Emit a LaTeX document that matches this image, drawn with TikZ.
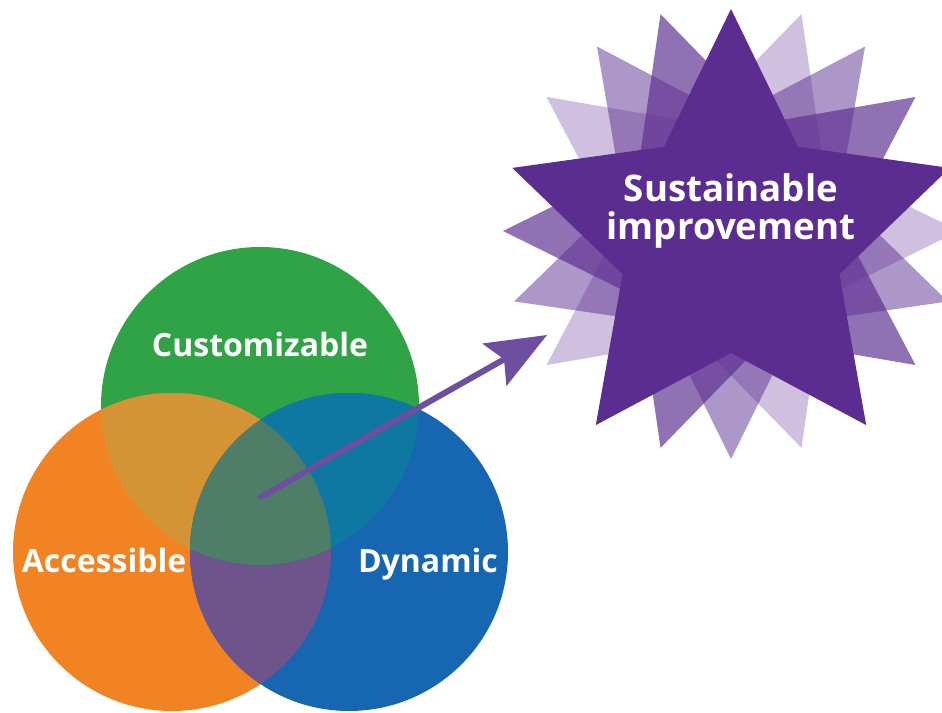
\documentclass[tikz,border=0pt]{standalone}
\usepackage{fontspec}
\setmainfont{Open Sans}
\usepackage{tikz}
\usetikzlibrary{arrows.meta}

\definecolor{vgreen}{RGB}{47,163,69}
\definecolor{vorange}{RGB}{242,131,34}
\definecolor{vblue}{RGB}{22,102,178}
\definecolor{vog}{RGB}{212,147,52}
\definecolor{vgb}{RGB}{14,119,162}
\definecolor{vob}{RGB}{111,84,140}
\definecolor{vall}{RGB}{78,126,104}
\definecolor{starpurple}{RGB}{92,45,145}
\definecolor{arrowpurple}{RGB}{110,78,158}

\begin{document}
\begin{tikzpicture}[x=0.75pt,y=0.75pt,
    lbl/.style={text=white,font=\bfseries\fontsize{24}{28}\selectfont,anchor=base,inner sep=0pt},
    goallbl/.style={text=white,font=\bfseries\fontsize{27.5}{33}\selectfont,anchor=base,inner sep=0pt},
    bgstar/.style={fill=starpurple,fill opacity=#1}]
    \useasboundingbox (0,0) rectangle (942,713);
    \clip (0,0) rectangle (942,713);
    \coordinate (cust) at (260,307);
    \coordinate (acc) at (172,161);
    \coordinate (dyn) at (349,161);
    \fill[vgreen] (cust) circle[radius=159];
    \fill[vorange] (acc) circle[radius=159];
    \fill[vblue] (dyn) circle[radius=159];
    \begin{scope}
      \clip (acc) circle[radius=159];
      \fill[vog] (cust) circle[radius=159];
      \fill[vob] (dyn) circle[radius=159];
    \end{scope}
    \begin{scope}
      \clip (dyn) circle[radius=159];
      \fill[vgb] (cust) circle[radius=159];
    \end{scope}
    \begin{scope}
      \clip (acc) circle[radius=159];
      \clip (dyn) circle[radius=159];
      \fill[vall] (cust) circle[radius=159];
    \end{scope}
    \node[lbl] (custtxt) at (260,356) {Customizable};
    \node[lbl] (acctxt) at (104,140) {Accessible};
    \node[lbl] (dyntxt) at (428,140) {Dynamic};
    \begin{scope}[shift={(731,482)}]
      \foreach \rot/\op in {-18/0.3,36/0.5,18/0.68} {
        \fill[bgstar=\op,rotate=\rot] (90:228)
          \foreach \k in {1,...,9} { -- ({90+36*\k}:{isodd(\k)?114:228}) } -- cycle;
      }
    \end{scope}
    \begin{scope}[shift={(731,474)}]
      \fill[starpurple] (90:230)
        \foreach \k in {1,...,9} { -- ({90+36*\k}:{isodd(\k)?114:230}) } -- cycle;
    \end{scope}
    \node[goallbl] (goal1) at (731,511) {Sustainable};
    \node[goallbl] (goal2) at (731,473) {improvement};
    \coordinate (core) at (261,216);
    \coordinate (aim) at (547,378);
    \draw[arrowpurple,line width=4.5pt,line cap=round,
      -{Stealth[length=45pt,width=36pt,inset=8pt]}] (core) -- (aim);
\end{tikzpicture}
\end{document}
